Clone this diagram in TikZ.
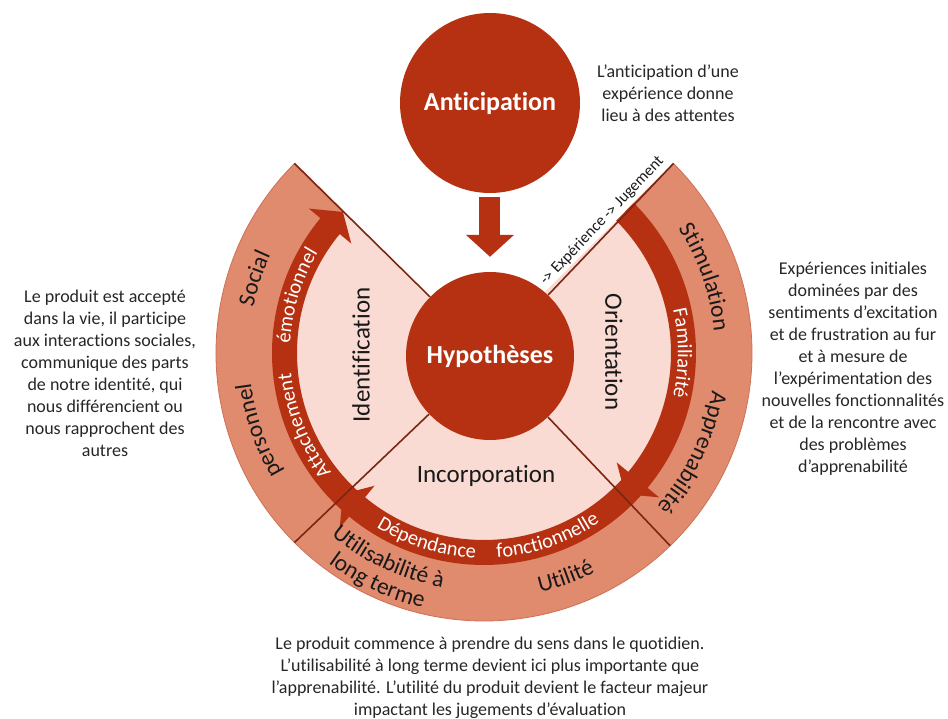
\documentclass[tikz,border=0pt]{standalone}
\usepackage{fontspec}
\setmainfont{Carlito}[Ligatures=NoCommon]
\usepackage{tikz}
\usetikzlibrary{arrows.meta,decorations.text,positioning}

\definecolor{rust}{RGB}{181,49,18}
\definecolor{blush}{RGB}{249,219,211}
\definecolor{salmon}{RGB}{224,138,110}
\definecolor{salmonline}{RGB}{206,112,86}
\definecolor{divline}{RGB}{122,38,18}

\newcommand{\bandfont}{\fontsize{20.5}{24}\selectfont}
\newcommand{\ringfont}{\fontsize{23.5}{27}\selectfont}

\tikzstyle{bigcircle} = [circle, fill=rust, text=white, inner sep=0pt, font=\fontsize{26}{30}\selectfont\bfseries]
\tikzstyle{divider} = [draw=divline, line width=1.6pt]
\tikzstyle{quarter} = [font=\fontsize{25}{30}\selectfont, text=black!90]
\tikzstyle{note} = [align=center, font=\fontsize{18}{22}\selectfont, text=black!85]
\tikzstyle{bandtext} = [decorate, decoration={text along path, text align=center, text color=white}]
\tikzstyle{ringtext} = [decorate, decoration={text along path, text align=center, text color=black!90}]

\begin{document}
\begin{tikzpicture}[x=1pt, y=1pt]
    \useasboundingbox (-484,-366) rectangle (464,353);

    % Rings
    \fill[blush] (0,0) -- (45:200pt) arc[start angle=45, end angle=-225, radius=200pt] -- cycle;
    \filldraw[fill=salmon, draw=salmonline, line width=0.8pt] (45:200pt) -- (45:268pt)
        arc[start angle=45, end angle=-225, radius=268pt] -- (-225:200pt)
        arc[start angle=-225, end angle=45, radius=200pt] -- cycle;

    % Curved arrows in the band
    \foreach \s/\e in {45/-45, -42/-135, -132/-225} {
        \fill[rust] (\s:187pt) arc[start angle=\s, end angle=\e+5.5, radius=187pt]
            -- ({\e+5.5}:172pt) -- (\e:199.5pt) -- ({\e+5.5}:227pt) -- ({\e+5.5}:212pt)
            arc[start angle=\e+5.5, end angle=\s, radius=212pt] -- cycle;
    }

    % Circles
    \node[bigcircle, minimum size=180pt] (antic) at (6,250) {Anticipation};
    \node[bigcircle, minimum size=168pt] (hyp) at (6,-3) {Hypothèses};
    \draw[rust, line width=21pt, -{Triangle[width=47pt, length=22pt]}, shorten <=4pt, shorten >=15pt] (antic) -- (hyp);

    % Dividers
    \coordinate (c45) at (45:268pt);
    \coordinate (c135) at (135:268pt);
    \coordinate (c225) at (225:268pt);
    \coordinate (c314) at (-46:268pt);
    \draw[divider] (hyp) -- node[sloped, above=1pt, font=\fontsize{16}{19}\selectfont, text=black!90] (judge) {-> Expérience -> Jugement} (c45);
    \draw[divider] (hyp) -- (c135);
    \draw[divider] (hyp) -- (c225);
    \draw[divider] (hyp) -- (c314);

    % Quarter labels
    \node[quarter, rotate=90] (ident) at (-123,-2) {Identification};
    \node[quarter, rotate=-90] (orient) at (130,1) {Orientation};
    \node[quarter] (incorp) at (2,-123) {Incorporation};

    % Band labels
    \path[bandtext, decoration={text={|\bandfont|Familiarité}}] (22:194pt) arc[start angle=22, end angle=-22, radius=194pt];
    \path[bandtext, decoration={text={|\bandfont|Attachement}}] (224:194pt) arc[start angle=224, end angle=180, radius=194pt];
    \path[bandtext, decoration={text={|\bandfont|émotionnel}}] (185:194pt) arc[start angle=185, end angle=141, radius=194pt];
    \path[bandtext, decoration={text={|\bandfont|Dépendance}}] (231:205pt) arc[start angle=231, end angle=275, radius=205pt];
    \path[bandtext, decoration={text={|\bandfont|fonctionnelle}}] (267:205pt) arc[start angle=267, end angle=311, radius=205pt];

    % Ring labels
    \path[ringtext, decoration={text={|\ringfont|Social}}] (182:235pt) arc[start angle=182, end angle=142, radius=235pt];
    \path[ringtext, decoration={text={|\ringfont|personnel}}] (219:235pt) arc[start angle=219, end angle=179, radius=235pt];
    \path[ringtext, decoration={text={|\ringfont|Stimulation}}] (40:231pt) arc[start angle=40, end angle=-2, radius=231pt];
    \path[ringtext, decoration={text={|\ringfont|Apprenabilité}}] (-3:231pt) arc[start angle=-3, end angle=-48, radius=231pt];
    \path[ringtext, decoration={text={|\ringfont|Utilité}}] (-94:246pt) arc[start angle=-94, end angle=-46, radius=246pt];
    \path[ringtext, decoration={text={|\ringfont|Utilisabilité à}}] (220:238pt) arc[start angle=220, end angle=270, radius=238pt];
    \path[ringtext, decoration={text={|\ringfont|long terme}}] (220:262pt) arc[start angle=220, end angle=270, radius=262pt];

    % Notes
    \node[note] (notetop) at (184,260) {L’anticipation d’une\\expérience donne\\lieu à des attentes};
    \node[note] (noteleft) at (-379,-20) {Le produit est accepté\\dans la vie, il participe\\aux interactions sociales,\\communique des parts\\de notre identité, qui\\nous différencient ou\\nous rapprochent des\\autres};
    \node[note] (noteright) at (369,-16) {Expériences initiales\\dominées par des\\sentiments d’excitation\\et de frustration au fur\\et à mesure de\\l’expérimentation des\\nouvelles fonctionnalités\\et de la rencontre avec\\des problèmes\\d’apprenabilité};
    \node[note] (notebottom) at (6,-325) {Le produit commence à prendre du sens dans le quotidien.\\L’utilisabilité à long terme devient ici plus importante que\\l’apprenabilité. L’utilité du produit devient le facteur majeur\\impactant les jugements d’évaluation};
\end{tikzpicture}
\end{document}
